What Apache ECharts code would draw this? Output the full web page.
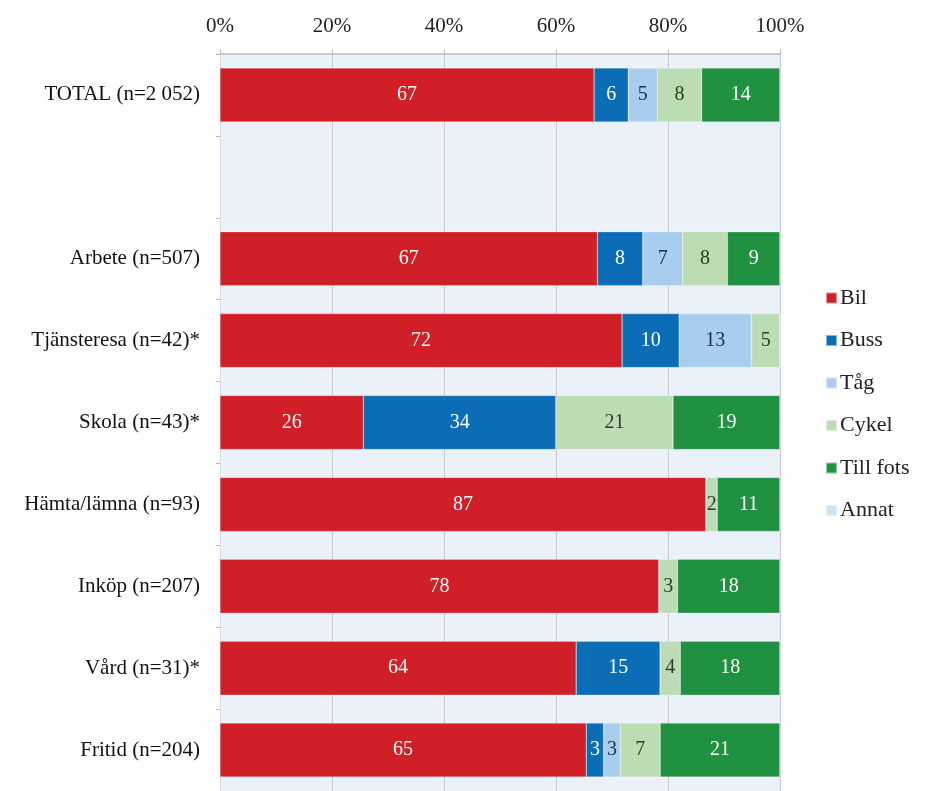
<!DOCTYPE html>
<html>
<head>
<meta charset="utf-8">
<script src="https://cdn.jsdelivr.net/npm/echarts@6/dist/echarts.min.js"></script>
<style>
	html,body{margin:0;padding:0;background:#fff;}
	#chart{width:926px;height:791px;}
</style>
</head>
<body>
<div id="chart"></div>
<script>
;(function(){
	// categories, top to bottom (tom rad efter TOTAL)
	var categories = ['TOTAL (n=2 052)', '', 'Arbete (n=507)', 'Tjänsteresa (n=42)*', 'Skola (n=43)*', 'Hämta/lämna (n=93)', 'Inköp (n=207)', 'Vård (n=31)*', 'Fritid (n=204)'];
	var xTicks = [0, 20, 40, 60, 80, 100];
	// andel i procent per färdmedel
	var bil      = [66.8, null, 67.4, 71.8, 25.6, 86.8, 78.4, 63.6, 65.4];
	var buss     = [6.1,  null, 8.1,  10.2, 34.4, 0,    0,    15.0, 3.1];
	var tag      = [5.2,  null, 7.1,  12.9, 0,    0,    0,    0,    3.0];
	var cykel    = [7.9,  null, 8.0,  5.1,  20.9, 2.0,  3.3,  3.6,  7.1];
	var tillFots = [14.0, null, 9.4,  0,    19.1, 11.2, 18.3, 17.8, 21.4];
	var annat    = [0,    null, 0,    0,    0,    0,    0,    0,    0];

	var font = '"Liberation Serif", "DejaVu Serif", serif';

	function makeSeries(name, data, color, labelColor){
		return {
			name: name,
			type: 'bar',
			stack: 'all',
			barWidth: 54,
			data: data,
			itemStyle: { color: color, borderColor: 'rgba(255,255,255,0.5)', borderWidth: 0.5 },
			label: {
				show: true,
				position: 'inside',
				color: labelColor,
				fontFamily: font,
				fontSize: 20,
				formatter: function(p){
					if(p.value == null || p.value < 0.5){
						return '';
					}
					return Math.round(p.value);
				}
			}
		};
	}

	var myChart = echarts.init(document.getElementById('chart'), null, {renderer: 'canvas'});
	var option = {
		backgroundColor: '#fff',
		animation: false,
		grid: {
			left: 220,
			right: 146,
			top: 54,
			bottom: 0,
			show: true,
			backgroundColor: '#eaf1f9',
			borderWidth: 0
		},
		legend: {
			orient: 'vertical',
			left: 820,
			top: 282,
			itemWidth: 11,
			itemHeight: 11,
			itemGap: 20.5,
			icon: 'rect',
			textStyle: { fontFamily: font, fontSize: 22, lineHeight: 22, color: '#222', padding: [0, 0, 0, -2] },
			data: ['Bil', 'Buss', 'Tåg', 'Cykel', 'Till fots', 'Annat']
		},
		xAxis: {
			type: 'value',
			position: 'top',
			min: xTicks[0],
			max: xTicks[xTicks.length - 1],
			interval: 20,
			axisLine: { show: true, lineStyle: { color: '#bbb', width: 1.5 } },
			axisTick: { show: true, length: 5, lineStyle: { color: '#bbb' } },
			axisLabel: {
				fontFamily: font,
				fontSize: 21,
				color: '#222',
				margin: 17,
				formatter: '{value}%'
			},
			splitLine: { show: true, lineStyle: { color: '#c4c8cc', width: 1 } }
		},
		yAxis: {
			type: 'category',
			inverse: true,
			data: categories,
			axisLine: { show: true, lineStyle: { color: '#d4dbe2' } },
			axisTick: { show: true, length: 4, lineStyle: { color: '#bbb' } },
			axisLabel: {
				fontFamily: font,
				fontSize: 21,
				color: '#111',
				margin: 20
			}
		},
		series: [
			makeSeries('Bil', bil, '#d01f27', '#fff'),
			makeSeries('Buss', buss, '#0a6db6', '#fff'),
			makeSeries('Tåg', tag, '#a9cdee', '#1d2f4a'),
			makeSeries('Cykel', cykel, '#bcdcb4', '#2e3a2a'),
			makeSeries('Till fots', tillFots, '#1f9140', '#fff'),
			makeSeries('Annat', annat, '#cfe3f1', '#333')
		]
	};
	myChart.setOption(option);
})();
</script>
</body>
</html>
